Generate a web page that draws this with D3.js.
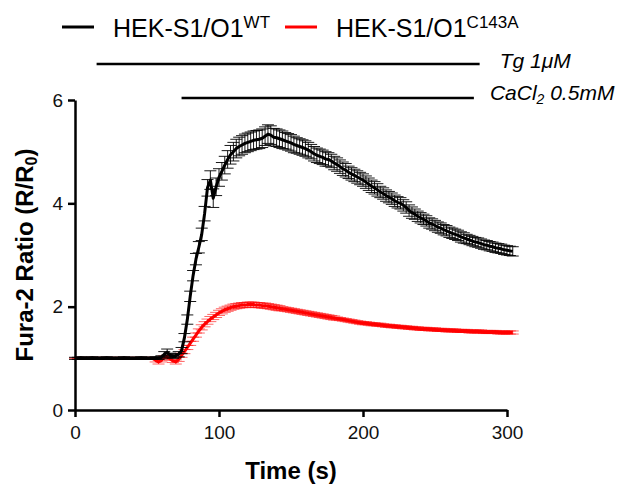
<!DOCTYPE html>
<html lang="en">
<head>
    <meta charset="UTF-8">
    <title>Fura-2 ratio trace</title>
    <script src="https://cdn.jsdelivr.net/npm/d3@7"></script>
    <style>
        body { margin: 0; background: #fff; }
        svg { display: block; }
    </style>
</head>
<body>
<script>
    // sampling times (s)
    const times = [
        0, 2, 4, 6, 8, 10, 12, 14, 16, 18, 20, 22, 24, 26, 28, 30, 32, 34, 36, 38,
        40, 42, 44, 46, 48, 50, 52, 54, 56, 58, 60, 62, 64, 66, 68, 70, 72, 74, 76, 78,
        80, 82, 84, 86, 88, 90, 92, 94, 96, 98, 100, 102, 104, 106, 108, 110, 112, 114, 116, 118,
        120, 122, 124, 126, 128, 130, 132, 134, 136, 138, 140, 142, 144, 146, 148, 150, 152, 154, 156, 158,
        160, 162, 164, 166, 168, 170, 172, 174, 176, 178, 180, 182, 184, 186, 188, 190, 192, 194, 196, 198,
        200, 202, 204, 206, 208, 210, 212, 214, 216, 218, 220, 222, 224, 226, 228, 230, 232, 234, 236, 238,
        240, 242, 244, 246, 248, 250, 252, 254, 256, 258, 260, 262, 264, 266, 268, 270, 272, 274, 276, 278,
        280, 282, 284, 286, 288, 290, 292, 294, 296, 298, 300, 302, 304
    ];

    // HEK-S1/O1 WT mean and SEM
    const wtMean = [
        1.00, 1.00, 1.01, 1.00, 1.00, 1.00, 1.01, 1.00, 1.00, 1.00, 1.00, 1.01, 1.00, 1.00, 1.00, 1.00, 1.00, 1.01, 1.00, 1.00,
        1.00, 1.00, 1.00, 1.01, 1.00, 1.00, 1.00, 1.00, 1.01, 1.00, 1.02, 1.08, 1.12, 1.06, 1.04, 1.05, 1.08, 1.15, 1.40, 1.75,
        2.20, 2.60, 2.92, 3.15, 3.40, 3.80, 4.30, 4.45, 4.10, 4.32, 4.50, 4.62, 4.74, 4.85, 4.94, 5.00, 5.06, 5.10, 5.13, 5.16,
        5.18, 5.20, 5.22, 5.23, 5.24, 5.26, 5.30, 5.34, 5.32, 5.28, 5.27, 5.25, 5.23, 5.21, 5.19, 5.17, 5.14, 5.12, 5.10, 5.08,
        5.06, 5.03, 5.00, 4.96, 4.93, 4.91, 4.89, 4.86, 4.85, 4.82, 4.78, 4.75, 4.71, 4.67, 4.64, 4.60, 4.57, 4.54, 4.51, 4.48,
        4.45, 4.41, 4.37, 4.33, 4.30, 4.26, 4.22, 4.19, 4.15, 4.12, 4.09, 4.05, 4.02, 4.00, 3.96, 3.92, 3.86, 3.82, 3.79, 3.75,
        3.72, 3.69, 3.66, 3.62, 3.60, 3.57, 3.54, 3.52, 3.49, 3.47, 3.44, 3.42, 3.40, 3.38, 3.35, 3.33, 3.31, 3.29, 3.27, 3.25,
        3.24, 3.22, 3.20, 3.19, 3.17, 3.16, 3.14, 3.13, 3.12, 3.10, 3.09, 3.08, 3.07
    ];
    const wtSem = [
        0.02, 0.02, 0.02, 0.02, 0.02, 0.02, 0.02, 0.02, 0.02, 0.02, 0.02, 0.02, 0.02, 0.02, 0.02, 0.02, 0.02, 0.02, 0.02, 0.02,
        0.02, 0.02, 0.02, 0.02, 0.02, 0.02, 0.02, 0.02, 0.02, 0.02, 0.03, 0.05, 0.06, 0.04, 0.04, 0.04, 0.05, 0.06, 0.08, 0.09,
        0.10, 0.10, 0.11, 0.11, 0.12, 0.14, 0.16, 0.18, 0.18, 0.17, 0.17, 0.17, 0.17, 0.17, 0.18, 0.18, 0.18, 0.18, 0.18, 0.18,
        0.18, 0.18, 0.18, 0.18, 0.18, 0.18, 0.18, 0.18, 0.18, 0.17, 0.17, 0.17, 0.17, 0.16, 0.16, 0.16, 0.16, 0.15, 0.15, 0.15,
        0.15, 0.15, 0.14, 0.14, 0.14, 0.14, 0.14, 0.14, 0.13, 0.13, 0.13, 0.13, 0.13, 0.13, 0.13, 0.12, 0.12, 0.12, 0.12, 0.12,
        0.12, 0.12, 0.12, 0.12, 0.12, 0.12, 0.11, 0.11, 0.11, 0.11, 0.11, 0.11, 0.11, 0.11, 0.11, 0.11, 0.11, 0.11, 0.10, 0.10,
        0.10, 0.10, 0.10, 0.10, 0.10, 0.10, 0.10, 0.10, 0.10, 0.10, 0.10, 0.10, 0.10, 0.10, 0.10, 0.10, 0.09, 0.09, 0.09, 0.09,
        0.09, 0.09, 0.09, 0.09, 0.09, 0.09, 0.09, 0.09, 0.09, 0.09, 0.09, 0.09, 0.09
    ];

    // HEK-S1/O1 C143A mean and SEM
    const mutMean = [
        1.00, 1.00, 1.00, 1.00, 1.00, 1.00, 1.00, 1.00, 1.00, 1.00, 1.00, 1.00, 1.00, 1.00, 1.00, 1.00, 1.00, 1.00, 1.00, 1.00,
        1.00, 1.00, 1.00, 1.00, 1.00, 1.00, 1.00, 1.00, 0.96, 0.93, 0.96, 1.02, 1.03, 0.99, 0.95, 0.93, 0.98, 1.06, 1.13, 1.21,
        1.29, 1.37, 1.45, 1.53, 1.60, 1.66, 1.71, 1.76, 1.80, 1.84, 1.88, 1.91, 1.94, 1.96, 1.98, 2.00, 2.01, 2.02, 2.03, 2.03,
        2.04, 2.04, 2.04, 2.03, 2.03, 2.02, 2.02, 2.01, 2.00, 1.99, 1.98, 1.97, 1.96, 1.95, 1.94, 1.93, 1.92, 1.91, 1.90, 1.89,
        1.88, 1.87, 1.86, 1.85, 1.84, 1.83, 1.82, 1.81, 1.80, 1.79, 1.78, 1.77, 1.76, 1.75, 1.74, 1.73, 1.72, 1.71, 1.70, 1.69,
        1.68, 1.68, 1.67, 1.66, 1.66, 1.65, 1.65, 1.64, 1.63, 1.63, 1.62, 1.62, 1.61, 1.61, 1.60, 1.60, 1.59, 1.59, 1.58, 1.58,
        1.57, 1.57, 1.57, 1.56, 1.56, 1.56, 1.55, 1.55, 1.55, 1.54, 1.54, 1.54, 1.54, 1.53, 1.53, 1.53, 1.53, 1.52, 1.52, 1.52,
        1.52, 1.52, 1.51, 1.51, 1.51, 1.51, 1.51, 1.50, 1.50, 1.50, 1.50, 1.50, 1.50
    ];
    const mutSem = [
        0.01, 0.01, 0.01, 0.01, 0.01, 0.01, 0.01, 0.01, 0.01, 0.01, 0.01, 0.01, 0.01, 0.01, 0.01, 0.01, 0.01, 0.01, 0.01, 0.01,
        0.01, 0.01, 0.01, 0.01, 0.01, 0.01, 0.01, 0.01, 0.03, 0.04, 0.03, 0.03, 0.03, 0.03, 0.03, 0.04, 0.04, 0.04, 0.04, 0.04,
        0.04, 0.04, 0.04, 0.04, 0.05, 0.05, 0.05, 0.05, 0.05, 0.05, 0.05, 0.05, 0.05, 0.05, 0.05, 0.05, 0.05, 0.05, 0.05, 0.05,
        0.05, 0.05, 0.05, 0.05, 0.05, 0.05, 0.05, 0.05, 0.05, 0.05, 0.05, 0.05, 0.04, 0.04, 0.04, 0.04, 0.04, 0.04, 0.04, 0.04,
        0.04, 0.04, 0.04, 0.04, 0.04, 0.04, 0.04, 0.04, 0.04, 0.04, 0.04, 0.03, 0.03, 0.03, 0.03, 0.03, 0.03, 0.03, 0.03, 0.03,
        0.03, 0.03, 0.03, 0.03, 0.03, 0.03, 0.03, 0.03, 0.03, 0.03, 0.03, 0.03, 0.03, 0.03, 0.03, 0.03, 0.03, 0.03, 0.03, 0.03,
        0.03, 0.03, 0.03, 0.03, 0.03, 0.03, 0.03, 0.03, 0.03, 0.03, 0.03, 0.03, 0.03, 0.03, 0.03, 0.03, 0.03, 0.03, 0.03, 0.03,
        0.03, 0.03, 0.03, 0.03, 0.03, 0.03, 0.03, 0.03, 0.03, 0.03, 0.03, 0.03, 0.03
    ];

    const xTicks = [0, 100, 200, 300];
    const yTicks = [0, 2, 4, 6];

    // treatment bars: [start, end] in seconds
    const tgBar = [15, 281];
    const caBar = [74, 277];

    const width = 622;
    const height = 485;
    const margin = { top: 100, right: 115, bottom: 75, left: 75 };
    const innerWidth = width - margin.left - margin.right;
    const innerHeight = height - margin.top - margin.bottom;
    const font = "Liberation Sans, Arial, sans-serif";

    const svg = d3.select("body")
        .append("svg")
        .attr("width", width)
        .attr("height", height)
        .attr("font-family", font);

    const g = svg.append("g")
        .attr("transform", `translate(${margin.left},${margin.top})`);

    const x = d3.scaleLinear().domain([0, 300]).range([0, innerWidth]);
    const y = d3.scaleLinear().domain([0, 6]).range([innerHeight, 0]);

    // axes
    const xAxis = g.append("g")
        .attr("transform", `translate(0,${innerHeight})`)
        .call(d3.axisBottom(x).tickValues(xTicks).tickFormat(d3.format("d"))
            .tickSize(7).tickSizeOuter(0).tickPadding(9));
    const yAxis = g.append("g")
        .call(d3.axisLeft(y).tickValues(yTicks).tickFormat(d3.format("d"))
            .tickSize(7).tickSizeOuter(0).tickPadding(5));

    [xAxis, yAxis].forEach(a => {
        a.attr("font-family", font).attr("font-size", 19);
        a.select(".domain").attr("stroke", "#000").attr("stroke-width", 2.5);
        a.selectAll(".tick line").attr("stroke", "#000").attr("stroke-width", 2.5);
        a.selectAll(".tick text").attr("fill", "#111");
    });

    // axis titles
    g.append("text")
        .attr("x", innerWidth / 2)
        .attr("y", innerHeight + 69)
        .attr("text-anchor", "middle")
        .attr("font-size", 24)
        .attr("font-weight", "bold")
        .text("Time (s)");

    const yTitle = g.append("text")
        .attr("transform", `translate(-42,${innerHeight / 2}) rotate(-90)`)
        .attr("text-anchor", "middle")
        .attr("font-size", 24)
        .attr("font-weight", "bold");
    yTitle.append("tspan").text("Fura-2 Ratio (R/R");
    yTitle.append("tspan").attr("baseline-shift", "-25%").attr("font-size", 16).text("0");
    yTitle.append("tspan").text(")");

    // error bars + mean line for one series
    function drawSeries(mean, sem, color, capOpacity) {
        const pts = times.map((t, i) => ({ t: t, m: mean[i], s: sem[i] }));
        const bars = g.append("g")
            .attr("stroke", color)
            .attr("stroke-width", 1)
            .attr("stroke-opacity", capOpacity);
        bars.selectAll(".stem")
            .data(pts)
            .enter().append("line")
            .attr("x1", d => x(d.t)).attr("x2", d => x(d.t))
            .attr("y1", d => y(d.m - d.s)).attr("y2", d => y(d.m + d.s));
        bars.selectAll(".capHi")
            .data(pts)
            .enter().append("line")
            .attr("x1", d => x(d.t) - 6).attr("x2", d => x(d.t) + 6)
            .attr("y1", d => y(d.m + d.s)).attr("y2", d => y(d.m + d.s));
        bars.selectAll(".capLo")
            .data(pts)
            .enter().append("line")
            .attr("x1", d => x(d.t) - 6).attr("x2", d => x(d.t) + 6)
            .attr("y1", d => y(d.m - d.s)).attr("y2", d => y(d.m - d.s));

        g.append("path")
            .datum(pts)
            .attr("fill", "none")
            .attr("stroke", color)
            .attr("stroke-width", 3)
            .attr("stroke-linejoin", "round")
            .attr("d", d3.line().x(d => x(d.t)).y(d => y(d.m)));
    }

    drawSeries(mutMean, mutSem, "#ff0000", 0.6);
    drawSeries(wtMean, wtSem, "#000000", 0.9);

    // treatment bars
    const tgY = -36;
    const caY = -2;
    g.append("line")
        .attr("x1", x(tgBar[0])).attr("x2", x(tgBar[1]))
        .attr("y1", tgY).attr("y2", tgY)
        .attr("stroke", "#000").attr("stroke-width", 2.5);
    g.append("text")
        .attr("x", x(tgBar[1]) + 20).attr("y", tgY + 4)
        .attr("font-size", 21).attr("font-style", "italic")
        .text("Tg 1\u03bcM");

    g.append("line")
        .attr("x1", x(caBar[0])).attr("x2", x(caBar[1]))
        .attr("y1", caY).attr("y2", caY)
        .attr("stroke", "#000").attr("stroke-width", 2.5);
    const caText = g.append("text")
        .attr("x", x(caBar[1]) + 16).attr("y", caY + 2)
        .attr("font-size", 21).attr("font-style", "italic");
    caText.append("tspan").text("CaCl");
    caText.append("tspan").attr("baseline-shift", "-25%").attr("font-size", 14).text("2");
    caText.append("tspan").text(" 0.5mM");

    // legend
    const legend = [
        { name: "HEK-S1/O1", sup: "WT", color: "#000", x: 62 },
        { name: "HEK-S1/O1", sup: "C143A", color: "#ff0000", x: 285 }
    ];
    legend.forEach(l => {
        svg.append("line")
            .attr("x1", l.x).attr("x2", l.x + 32)
            .attr("y1", 27).attr("y2", 27)
            .attr("stroke", l.color).attr("stroke-width", 3);
        const t = svg.append("text")
            .attr("x", l.x + 51).attr("y", 37)
            .attr("font-size", 25);
        t.append("tspan").text(l.name);
        t.append("tspan").attr("baseline-shift", "55%").attr("font-size", 17).text(l.sup);
    });
</script>
</body>
</html>
